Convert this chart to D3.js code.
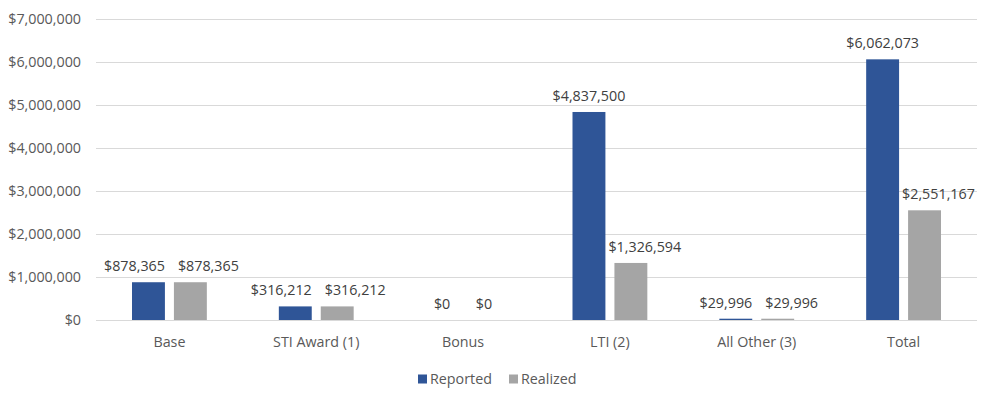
<!DOCTYPE html>
<html>
<head>
<meta charset="utf-8" />
<title>Reported vs Realized</title>
<script src="https://cdn.jsdelivr.net/npm/d3@7/dist/d3.min.js"></script>
<style>
  body { margin: 0; background: #fff; }
  text { font-family: "Open Sans", sans-serif; }
  .grid line { stroke: #d9d9d9; }
  .grid path { display: none; }
</style>
</head>
<body>
<div id="chart"></div>
<script>
var categories = ["Base", "STI Award (1)", "Bonus", "LTI (2)", "All Other (3)", "Total"];
var seriesNames = ["Reported", "Realized"];
var reported = [878365, 316212, 0, 4837500, 29996, 6062073];
var realized = [878365, 316212, 0, 1326594, 29996, 2551167];
var yTicks = [0, 1000000, 2000000, 3000000, 4000000, 5000000, 6000000, 7000000];
var colors = ["#2f5597", "#a5a5a5"];

var W = 985, H = 393;
var margin = {top: 19, right: 8, bottom: 73, left: 96};
var width = W - margin.left - margin.right,
    height = H - margin.top - margin.bottom;
var fs = "14.3px";

var svg = d3.select("#chart").append("svg")
    .attr("width", W)
    .attr("height", H);

var g = svg.append("g")
    .attr("transform", "translate(" + margin.left + "," + margin.top + ")");

var x0 = d3.scaleBand().domain(categories).range([0, width]).paddingInner(0).paddingOuter(0);
// two bars of 33px with a 9px gap inside a ~147px band
var x1 = d3.scaleBand().domain(seriesNames).range([36, x0.bandwidth() - 36]).paddingInner(0.215);

var y = d3.scaleLinear().domain([0, 7000000]).range([height, 0]);

var fmt = function (v) { return "$" + d3.format(",")(v); };

// gridlines
g.append("g")
    .attr("class", "grid")
    .call(d3.axisLeft(y).tickValues(yTicks).tickSize(-width).tickFormat(""));

// y labels
g.append("g")
    .selectAll("text")
    .data(yTicks)
    .join("text")
    .attr("x", -15)
    .attr("y", function (d) { return y(d); })
    .attr("dy", "0.35em")
    .attr("text-anchor", "end")
    .attr("fill", "#595959")
    .style("font-size", fs)
    .text(fmt);

var rows = categories.map(function (c, i) {
    return {cat: c, vals: [reported[i], realized[i]]};
});

var groups = g.selectAll(".grp")
    .data(rows)
    .join("g")
    .attr("class", "grp")
    .attr("transform", function (d) { return "translate(" + x0(d.cat) + ",0)"; });

groups.selectAll("rect")
    .data(function (d) { return d.vals.map(function (v, j) { return {s: seriesNames[j], v: v, j: j}; }); })
    .join("rect")
    .attr("x", function (d) { return x1(d.s); })
    .attr("width", x1.bandwidth())
    .attr("y", function (d) { return y(d.v); })
    .attr("height", function (d) { return y(0) - y(d.v); })
    .attr("fill", function (d) { return colors[d.j]; });

// value labels, pushed apart when they collide (like Excel does)
groups.each(function (d) {
    var grp = d3.select(this);
    var labels = d.vals.map(function (v, j) {
        var t = grp.append("text")
            .attr("y", y(v) - 11)
            .attr("fill", "#404040")
            .style("font-size", fs)
            .text(fmt(v));
        var w = t.node().getComputedTextLength();
        var bx = x1(seriesNames[j]);
        return {t: t, w: w, left: bx + x1.bandwidth() / 2 - w / 2, y: y(v) - 11, barX: bx};
    });
    var a = labels[0], b = labels[1];
    var repRight = a.barX + x1.bandwidth();
    var repTop = y(d.vals[0]);
    if (b.y - 4 > repTop && b.left < repRight) {
        // realized label would sit over the taller reported bar
        b.left = repRight + 3;
    } else if (Math.abs(a.y - b.y) < 14 && a.left + a.w > b.left) {
        b.left = b.barX + 4;
        a.left = b.left - 13 - a.w;
    }
    labels.forEach(function (l) { l.t.attr("x", l.left); });
});

// category labels
g.append("g")
    .selectAll("text")
    .data(categories)
    .join("text")
    .attr("x", function (d) { return x0(d) + x0.bandwidth() / 2; })
    .attr("y", height + 22)
    .attr("dy", "0.35em")
    .attr("text-anchor", "middle")
    .attr("fill", "#595959")
    .style("font-size", fs)
    .text(function (d) { return d; });

// legend
var legend = svg.append("g").attr("transform", "translate(418,379)");
var lx = [0, 91];
seriesNames.forEach(function (s, i) {
    legend.append("rect")
        .attr("x", lx[i]).attr("y", -4.5)
        .attr("width", 9).attr("height", 9)
        .attr("fill", colors[i]);
    legend.append("text")
        .attr("x", lx[i] + 12).attr("y", 0)
        .attr("dy", "0.35em")
        .attr("fill", "#595959")
        .style("font-size", fs)
        .text(s);
});
</script>
</body>
</html>
